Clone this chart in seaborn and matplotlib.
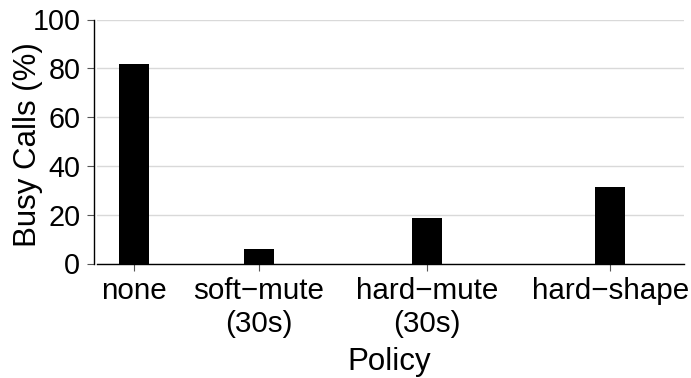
import matplotlib
matplotlib.use("Agg")
import matplotlib.pyplot as plt
import seaborn as sns
import pandas as pd

# Busy-call share per admission policy
policies = ["none", "soft\u2212mute\n(30s)", "hard\u2212mute\n(30s)", "hard\u2212shape"]
busy_calls = [81.8, 5.9, 18.5, 31.4]
y_ticks = [0, 20, 40, 60, 80, 100]

# Horizontal placement of each policy on the x axis
x_slots = [1.0, 2.0, 3.352, 4.824]

sns.set_theme(style="whitegrid")
plt.rcParams["font.family"] = ["Liberation Sans", "DejaVu Sans"]

df = pd.DataFrame({"slot": x_slots, "busy": busy_calls, "policy": policies})

fig = plt.figure(figsize=(6.91, 3.78), dpi=100)
ax = fig.add_axes([97 / 691, 1 - 263.5 / 378, (684 - 97) / 691, (263.5 - 19.5) / 378])

sns.barplot(data=df, x="slot", y="busy", native_scale=True, width=0.241,
            color="black", saturation=1, edgecolor="black", linewidth=0, ax=ax)

ax.set_xlim(0.702, 5.417)
ax.set_ylim(0, 100)
ax.set_xticks(x_slots)
ax.set_xticklabels(policies)
ax.set_yticks(y_ticks)
ax.set_yticklabels([str(v) for v in y_ticks])

ax.grid(axis="y", color="#d9d9d9", linewidth=1.0)
ax.grid(axis="x", visible=False)
ax.set_axisbelow(True)

for side in ["top", "right"]:
    ax.spines[side].set_visible(False)
ax.spines["left"].set_position(("outward", 2))
ax.spines["left"].set_color("black")
ax.spines["bottom"].set_color("black")
ax.spines["left"].set_linewidth(1.0)
ax.spines["bottom"].set_linewidth(1.0)

ax.tick_params(axis="both", which="major", length=5, width=0.8, color="#555555",
               labelcolor="black", direction="out")
ax.tick_params(axis="x", pad=5, bottom=True, labelsize=21.3)
ax.tick_params(axis="y", pad=5, left=True, labelsize=20.7)
for lbl in ax.get_xticklabels():
    lbl.set_linespacing(1.22)

ax.set_xlabel("Policy", fontsize=22.5, color="black")
ax.set_ylabel("Busy Calls (%)", fontsize=22.5, color="black")
ax.xaxis.set_label_coords(389 / 691, 1 / 378, transform=fig.transFigure)
ax.xaxis.label.set_va("bottom")
ax.yaxis.set_label_coords(43 / 691, 1 - 145 / 378, transform=fig.transFigure)
ax.yaxis.label.set_va("bottom")

fig.savefig("out.png", dpi=100, facecolor="white")
